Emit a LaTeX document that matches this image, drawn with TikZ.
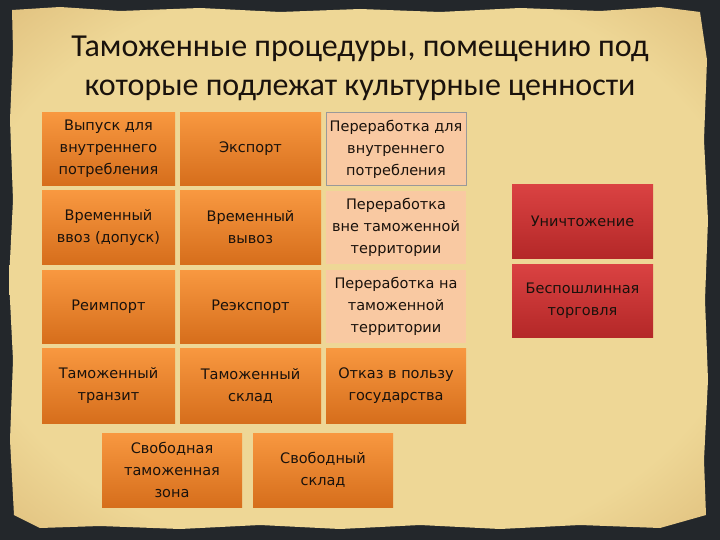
\documentclass[tikz,border=0pt]{standalone}
\usepackage{fontspec}
\setmainfont{DejaVu Sans}
\newfontfamily\titlefont{Carlito}
\definecolor{parchA}{HTML}{EED796}
\definecolor{parchB}{HTML}{D0A561}
\definecolor{frameC}{HTML}{23272B}
\definecolor{orTop}{HTML}{F89840}
\definecolor{orBot}{HTML}{D66E1C}
\definecolor{peach}{HTML}{F9C9A2}
\definecolor{redTop}{HTML}{DA4242}
\definecolor{redBot}{HTML}{B42828}
\definecolor{txt}{HTML}{1A120C}
\pgfdeclareradialshading{parch}{\pgfpoint{0bp}{0bp}}{color(0bp)=(parchA); color(28bp)=(parchA); color(46bp)=(parchB); color(50bp)=(parchB)}
\tikzset{
  cell/.style={minimum width=141pt, minimum height=73pt, inner sep=0pt, align=center,
    text=txt, font=\fontsize{14.5}{22}\selectfont},
  orange/.style={cell, top color=orTop, bottom color=orBot},
  peachbox/.style={cell, fill=peach},
  redbox/.style={cell, top color=redTop, bottom color=redBot},
}
\begin{document}
\begin{tikzpicture}[x=1pt,y=-1pt]
\useasboundingbox (0,0) rectangle (720,540);
\fill[frameC] (0,0) rectangle (720,540);
\shade[shading=parch]
  (12,10) -- (60,7) -- (120,11) -- (200,8) -- (280,12) -- (360,9) -- (440,12) -- (520,8) -- (600,11) -- (660,7) -- (700,12)
  -- (707,60) -- (704,140) -- (708,220) -- (705,300) -- (708,380) -- (704,460) -- (706,515)
  -- (660,528) -- (580,525) -- (500,529) -- (420,525) -- (340,529) -- (260,525) -- (180,529) -- (100,526) -- (40,528)
  -- (14,515) -- (10,440) -- (13,360) -- (9,280) -- (13,200) -- (10,120) -- (13,50) -- cycle;
\node[font=\titlefont\fontsize{32}{39}\selectfont, text=txt, align=center] (title) at (360,68)
  {Таможенные процедуры, помещению под\\которые подлежат культурные ценности};
% column 1
\node[orange, minimum width=133pt] (c11) at (108.5,149) {Выпуск для\\внутреннего\\потребления};
\node[orange, minimum width=133pt] (c12) at (108.5,227.5) {Временный\\ввоз (допуск)};
\node[orange, minimum width=133pt] (c13) at (108.5,306.5) {Реимпорт};
\node[orange, minimum width=133pt, minimum height=75pt] (c14) at (108.5,385.5) {Таможенный\\транзит};
% column 2
\node[orange] (c21) at (250.5,149) {Экспорт};
\node[orange] (c22) at (250.5,227.5) {Временный\\вывоз};
\node[orange] (c23) at (250.5,306.5) {Реэкспорт};
\node[orange, minimum height=75pt] (c24) at (250.5,385.5) {Таможенный\\склад};
% column 3
\node[peachbox, draw=black!40, minimum width=140pt] (c31) at (396,149) {Переработка для\\внутреннего\\потребления};
\node[peachbox, minimum width=140pt] (c32) at (396,227.5) {Переработка\\вне таможенной\\территории};
\node[peachbox, minimum width=140pt] (c33) at (396,306.5) {Переработка на\\таможенной\\территории};
\node[orange, minimum width=140pt, minimum height=75pt] (c34) at (396,385.5) {Отказ в пользу\\государства};
% red column
\node[redbox] (r1) at (582.5,221.5) {Уничтожение};
\node[redbox] (r2) at (582.5,300.5) {Беспошлинная\\торговля};
% bottom row
\node[orange, minimum width=140pt, minimum height=74pt] (b1) at (172,470) {Свободная\\таможенная\\зона};
\node[orange, minimum width=140pt, minimum height=74pt] (b2) at (323,470) {Свободный\\склад};
\end{tikzpicture}
\end{document}
